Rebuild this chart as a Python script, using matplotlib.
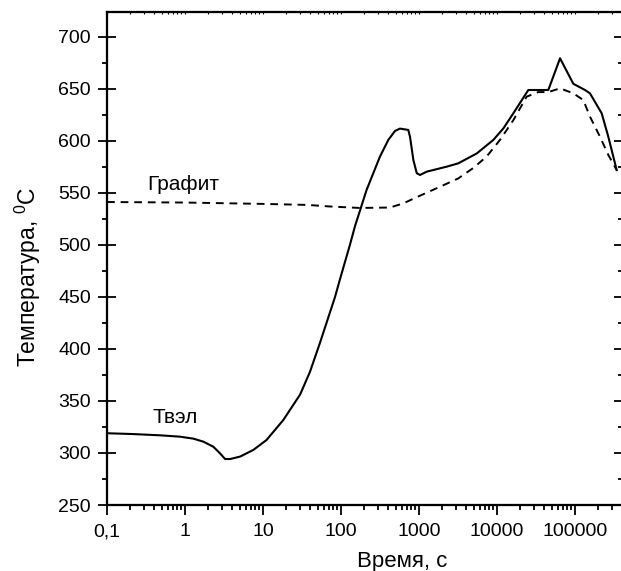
import matplotlib.pyplot as plt
from matplotlib.ticker import FixedLocator, LogLocator, MultipleLocator, NullFormatter

plt.rcParams['font.family'] = ['Liberation Sans', 'DejaVu Sans']
plt.rcParams['mathtext.default'] = 'regular'

# Твэл (fuel element), solid line
tvel_t = [0.1, 0.217, 0.479, 0.863, 1.28, 1.72, 2.31, 2.81, 3.26, 3.78, 5.07, 7.5,
          11.1, 18.2, 29.8, 40, 53.8, 83.8, 97, 130, 151, 213, 316, 404, 492, 570,
          729, 767, 847, 936, 1031, 1256, 2265, 3190, 5500, 8970, 12050, 16200,
          25200, 45500, 64300, 95100, 134300, 155500, 219800, 267500, 342400]
tvel_T = [319, 318.2, 317, 315.7, 313.8, 310.9, 306, 299.7, 294.2, 294.2, 296.5,
          302.9, 312.5, 331.7, 356, 378, 406, 450, 467, 500, 518, 553, 585,
          601, 609.6, 611.9, 610.6, 604, 581.7, 569, 567.3, 570.5, 575.3, 578.5,
          588, 601, 612, 626.6, 649, 649, 679.5, 655, 649, 645.8, 626.6, 604, 572]

# Графит (graphite), dashed line
graf_t = [0.1, 1, 10, 37.8, 72.3, 175, 425, 630, 936, 1860, 3190, 4960, 7360,
          10920, 16200, 24000, 33800, 45500, 64300, 95100, 127700, 155500, 209300,
          267500, 342400]
graf_T = [541.3, 540.8, 539.5, 538.5, 537, 535.6, 536, 540, 546, 556, 564, 574,
          585, 601, 620, 642.6, 647, 647, 650.6, 645.8, 639.4, 623.4, 604, 586.5,
          572]

x_ticks = [0.1, 1, 10, 100, 1000, 10000, 100000]
x_labels = ['0,1', '1', '10', '100', '1000', '10000', '100000']
y_ticks = [250, 300, 350, 400, 450, 500, 550, 600, 650, 700]

fig = plt.figure(figsize=(6.21, 5.71), dpi=100)
ax = fig.add_axes([107 / 621, 66 / 571, 515 / 621, 493 / 571])

ax.plot(tvel_t, tvel_T, color='black', lw=1.5, solid_joinstyle='round')
ax.plot(graf_t, graf_T, color='black', lw=1.4, linestyle=(0, (4, 3)))

ax.set_xscale('log')
ax.set_xlim(0.1, 10 ** (-1 + 515 / 78))
ax.set_ylim(250, 724)

ax.xaxis.set_major_locator(FixedLocator(x_ticks))
ax.set_xticklabels(x_labels)
ax.xaxis.set_minor_locator(LogLocator(base=10, subs=range(2, 10), numticks=20))
ax.xaxis.set_minor_formatter(NullFormatter())
ax.yaxis.set_major_locator(FixedLocator(y_ticks))
ax.yaxis.set_minor_locator(MultipleLocator(25))

ax.tick_params(axis='x', which='major', direction='out', length=7, width=1.3,
               labelsize=14, pad=6)
ax.tick_params(axis='x', which='minor', direction='out', length=3.6, width=1.3)
ax.tick_params(axis='y', which='major', direction='inout', length=13, width=1.3,
               labelsize=14, pad=5)
ax.tick_params(axis='y', which='minor', direction='out', length=3.6, width=1.3)

# right and top ticks point inwards, drawn on twin axes
axr = ax.twinx()
axr.set_ylim(ax.get_ylim())
axr.yaxis.set_major_locator(FixedLocator(y_ticks))
axr.yaxis.set_minor_locator(MultipleLocator(25))
axr.tick_params(axis='y', which='major', direction='in', length=5.8, width=1.3,
                labelright=False)
axr.tick_params(axis='y', which='minor', direction='in', length=3, width=1.3)

axt = ax.twiny()
axt.set_xscale('log')
axt.set_xlim(ax.get_xlim())
axt.xaxis.set_major_locator(FixedLocator(x_ticks))
axt.xaxis.set_minor_locator(LogLocator(base=10, subs=range(2, 10), numticks=20))
axt.xaxis.set_minor_formatter(NullFormatter())
axt.tick_params(axis='x', which='both', direction='in', length=1.5, width=0.8,
                labeltop=False)

for a in (ax, axr, axt):
    for s in a.spines.values():
        s.set_linewidth(1.5)
    a.spines['right'].set_visible(False)

ax.text(0.326, 552.9, 'Графит', fontsize=15, va='baseline', ha='left')
ax.text(0.378, 328.6, 'Твэл', fontsize=15, va='baseline', ha='left')

fig.text(402 / 621, 4 / 571, 'Время, с', fontsize=16, ha='center', va='baseline')
fig.text(28 / 621, (571 - 277) / 571, 'Температура, $^0$C', fontsize=16.5,
         ha='center', va='center', rotation=90)

fig.savefig('out.png', dpi=100)
